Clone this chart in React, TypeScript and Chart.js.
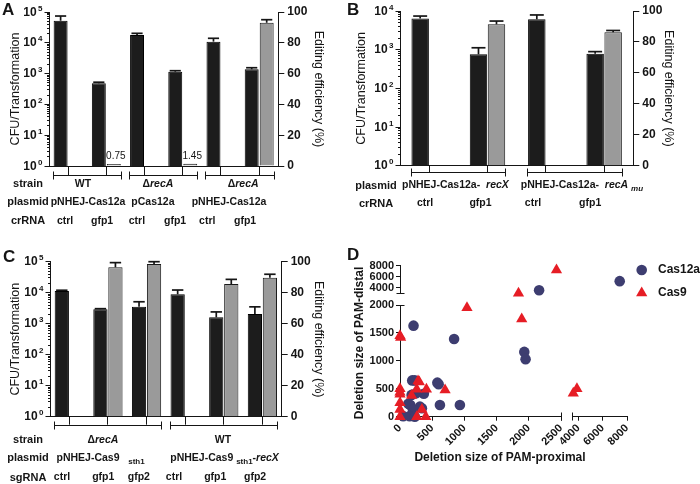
import React, { useEffect, useRef } from "react";
import { Chart, registerables } from "chart.js";

Chart.register(...registerables);

const FONT = "'Liberation Sans', Arial, Helvetica, sans-serif";
const INK = "#151515";
const DARK_BAR = "#1c1c1c";
const GREY_BAR = "#9a9a9a";
const CAS12A_COLOR = "#3d3d70";
const CAS9_COLOR = "#e61d25";

// ===== Panel A data =====
const aCrRNA = ["ctrl", "gfp1", "ctrl", "gfp1", "ctrl", "gfp1"];
const aCfu = [52000, 485, 17900, 1150, 10900, 1380];
const aCfuErr = [22000, 40, 2400, 90, 3100, 170];
const aEditing = [null, 0.75, null, 1.45, null, 93];
const aEditingErr = [null, 0, null, 0, null, 2];
const aEditingLabels = ["", "0.75", "", "1.45", "", ""];
const aStrains = ["WT", "Δ*recA*", "Δ*recA*"];
const aPlasmids = ["pNHEJ-Cas12a", "pCas12a", "pNHEJ-Cas12a"];

// ===== Panel B data =====
const bCrRNA = ["ctrl", "gfp1", "ctrl", "gfp1"];
const bCfu = [6400, 760, 6100, 780];
const bCfuErr = [1000, 360, 1800, 110];
const bEditing = [null, 91.4, null, 86.2];
const bEditingErr = [null, 2.1, null, 1.2];
const bEditingLabels = ["", "", "", ""];
const bPlasmids = ["pNHEJ-Cas12a-  *recX*", "pNHEJ-Cas12a-  *recA* _*mu*_"];

// ===== Panel C data =====
const cSgRNA = ["ctrl", "gfp1", "gfp2", "ctrl", "gfp1", "gfp2"];
const cCfu = [11300, 2950, 3500, 8900, 1600, 2050];
const cCfuErr = [700, 100, 1600, 3300, 800, 1450];
const cEditing = [null, 96.4, 98.5, null, 85.6, 89.7];
const cEditingErr = [null, 3, 1.5, null, 3, 2.2];
const cEditingLabels = ["", "", "", "", "", ""];
const cStrains = ["Δ*recA*", "WT"];
const cPlasmids = ["pNHEJ-Cas9   _sth1_", "pNHEJ-Cas9 _sth1_-*recX*"];

// ===== Panel D data =====
const dCas12a = [
  [210, 1630], [840, 1390], [1930, 1160], [1950, 1030],
  [190, 650], [230, 650], [580, 610], [600, 580],
  [370, 410], [180, 390], [250, 420],
  [130, 230], [160, 210], [310, 180], [340, 150], [620, 210], [930, 210],
  [200, 130], [50, 10], [150, 10], [230, 0],
  [2160, 3550], [7400, 5200],
];
const dCas9 = [
  [0, 1450], [10, 1420], [1040, 1950], [1890, 1750],
  [0, 500], [0, 440], [0, 400], [0, 250], [0, 130], [0, 0],
  [180, 380], [260, 490], [280, 640], [300, 620], [410, 490], [700, 480],
  [340, 130], [260, 0], [400, 0],
  [1840, 3000], [2430, 7200],
  [3580, 420], [3880, 500],
];
const dXMainRange = [0, 2500];
const dXHighRange = [3500, 8000];
const dYMainRange = [0, 2000];
const dYHighRange = [3000, 8000];
const dXMainTicks = [0, 500, 1000, 1500, 2000, 2500];
const dXHighTicks = [4000, 6000, 8000];
const dYMainTicks = [0, 500, 1000, 1500, 2000];
const dYHighTicks = [4000, 6000, 8000];

// ===== layout specs =====
const specA = {
  canvas: { left: 0, top: 0, width: 350, height: 240 },
  area: { l: 49, r: 278.3, t: 12, b: 166 },
  logMaxExp: 5,
  categories: aCrRNA, cfu: aCfu, cfuErr: aCfuErr, editing: aEditing, editingErr: aEditingErr, editingLabels: aEditingLabels,
  catPct: 0.785, barPct: 0.93,
  tickLen: 9,
  bracketY: 175,
  brackets: [[0, 1], [2, 3], [4, 5]],
  rowTitleX: 28,
  rows: [
    { title: "strain", y: 184, texts: aStrains, at: [0.39, 2.35, 4.58] },
    { title: "plasmid", y: 202, texts: aPlasmids, at: [0.52, 2.22, 4.21] },
    { title: "crRNA", y: 221, texts: aCrRNA, at: [-0.08, 0.89, 1.8, 2.8, 3.64, 4.63] },
  ],
  letter: { text: "A", x: 2, y: 15 },
  leftTitlePad: 8.5, rightTitlePad: 24.5,
};
const specB = {
  canvas: { left: 344, top: 0, width: 356, height: 240 },
  area: { l: 56, r: 289.3, t: 11, b: 165.7 },
  logMaxExp: 4,
  categories: bCrRNA, cfu: bCfu, cfuErr: bCfuErr, editing: bEditing, editingErr: bEditingErr, editingLabels: bEditingLabels,
  catPct: 0.617, barPct: 0.97,
  tickLen: 7,
  bracketY: 172.7,
  brackets: [[0, 1], [2, 3]],
  rowTitleX: 32,
  rows: [
    { title: "plasmid", y: 185.5, texts: bPlasmids, at: [0.45, 2.62] },
    { title: "crRNA", y: 203.5, texts: bCrRNA, at: [-0.07, 0.88, 1.78, 2.76] },
  ],
  letter: { text: "B", x: 3, y: 15 },
  leftTitlePad: 10.5, rightTitlePad: 24.5,
};
const specC = {
  canvas: { left: 0, top: 240, width: 350, height: 244 },
  area: { l: 50, r: 281.7, t: 21.7, b: 176.7 },
  logMaxExp: 5,
  categories: cSgRNA, cfu: cCfu, cfuErr: cCfuErr, editing: cEditing, editingErr: cEditingErr, editingLabels: cEditingLabels,
  catPct: 0.777, barPct: 0.95,
  tickLen: 8,
  bracketY: 185,
  brackets: [[0, 2], [3, 5]],
  rowTitleX: 28,
  rows: [
    { title: "strain", y: 200, texts: cStrains, at: [0.87, 3.98] },
    { title: "plasmid", y: 218, texts: cPlasmids, at: [0.81, 4.02] },
    { title: "sgRNA", y: 237.5, texts: cSgRNA, at: [-0.19, 0.88, 1.8, 2.71, 3.78, 4.81] },
  ],
  letter: { text: "C", x: 3, y: 22 },
  leftTitlePad: 8.5, rightTitlePad: 24.5,
};
const specD = {
  canvas: { left: 344, top: 240, width: 356, height: 244 },
  area: { l: 56, r: 283, t: 25.7, b: 176.7 },
  xWeights: [161, 11.3, 54.7],
  yWeights: [27.6, 11.7, 111.7],
  letter: { text: "D", x: 3, y: 20 },
};

// ===== helpers =====
function alignPx(v: number) {
  return Math.round(v - 0.5) + 0.5;
}
function line(ctx: CanvasRenderingContext2D, x1: number, y1: number, x2: number, y2: number) {
  ctx.beginPath();
  ctx.moveTo(x1, y1);
  ctx.lineTo(x2, y2);
  ctx.stroke();
}
type Run = { t: string; it: boolean; sub: boolean };
function parseRich(s: string): Run[] {
  const runs: Run[] = [];
  let it = false, sub = false, cur = "";
  for (const ch of s) {
    if (ch === "*" || ch === "_") {
      if (cur) runs.push({ t: cur, it, sub });
      cur = "";
      if (ch === "*") it = !it; else sub = !sub;
    } else cur += ch;
  }
  if (cur) runs.push({ t: cur, it, sub });
  return runs;
}
function drawRich(ctx: CanvasRenderingContext2D, s: string, cx: number, cy: number, size: number) {
  const runs = parseRich(s);
  const fontOf = (r: Run) => `${r.it ? "italic " : ""}bold ${r.sub ? Math.round(size * 0.72) : size}px ${FONT}`;
  let total = 0;
  const widths = runs.map((r) => {
    ctx.font = fontOf(r);
    const w = ctx.measureText(r.t).width;
    total += w;
    return w;
  });
  let x = cx - total / 2;
  ctx.textAlign = "left";
  ctx.textBaseline = "middle";
  runs.forEach((r, i) => {
    ctx.font = fontOf(r);
    ctx.fillText(r.t, x, cy + (r.sub ? size * 0.32 : 0));
    x += widths[i];
  });
}

function makeBarAnnotations(s: any) {
  return {
    id: "barAnnotations",
    afterDraw(chart: any) {
      const ctx: CanvasRenderingContext2D = chart.ctx;
      const xs = chart.scales.x, ys = chart.scales.y, ys2 = chart.scales.y2;
      const n = s.categories.length;
      const catW = (xs.right - xs.left) / n;
      const slot = (catW * s.catPct) / 2;
      const catX = (p: number) => xs.getPixelForValue(p);
      ctx.save();
      ctx.strokeStyle = INK;
      ctx.fillStyle = INK;
      ctx.lineWidth = 1;

      // log axis ticks and labels
      const ax = alignPx(ys.right);
      for (let e = 0; e <= s.logMaxExp; e++) {
        const y = alignPx(ys.getPixelForValue(Math.pow(10, e)));
        line(ctx, ax - 5, y, ax, y);
        if (e < s.logMaxExp) {
          for (let m = 2; m <= 9; m++) {
            const ym = alignPx(ys.getPixelForValue(m * Math.pow(10, e)));
            line(ctx, ax - 2.5, ym, ax, ym);
          }
        }
        ctx.textAlign = "right";
        ctx.textBaseline = "middle";
        ctx.font = `bold 8px ${FONT}`;
        const supW = ctx.measureText(String(e)).width;
        ctx.fillText(String(e), ax - 7, y - 4);
        ctx.font = `bold 12px ${FONT}`;
        ctx.fillText("10", ax - 7 - supW - 1.5, y);
      }

      // error bars
      const drawErr = (dsIndex: number, values: any[], errs: any[], scale: any) => {
        const meta = chart.getDatasetMeta(dsIndex);
        meta.data.forEach((bar: any, i: number) => {
          const v = values[i], e = errs[i];
          if (v == null || !e) return;
          const top = scale.getPixelForValue(v + e);
          ctx.lineWidth = 1.7;
          line(ctx, bar.x, bar.y, bar.x, top);
          line(ctx, bar.x - bar.width * 0.4, top, bar.x + bar.width * 0.4, top);
        });
      };
      drawErr(0, s.cfu, s.cfuErr, ys);
      drawErr(1, s.editing, s.editingErr, ys2);

      // small value labels
      const meta1 = chart.getDatasetMeta(1);
      ctx.font = `10px ${FONT}`;
      ctx.textAlign = "center";
      ctx.textBaseline = "alphabetic";
      s.editingLabels.forEach((t: string, i: number) => {
        if (!t) return;
        const bar = meta1.data[i];
        ctx.fillText(t, bar.x + 2, bar.y - 5);
      });

      // group brackets
      ctx.lineWidth = 1;
      const by = alignPx(s.bracketY);
      s.brackets.forEach(([a, b]: number[]) => {
        const x1 = alignPx(catX(a) - slot), x2 = alignPx(catX(b) + slot);
        line(ctx, x1, by, x2, by);
        line(ctx, x1, by - 4, x1, by + 4);
        line(ctx, x2, by - 4, x2, by + 4);
      });

      // annotation rows
      s.rows.forEach((row: any) => {
        ctx.font = `bold 11px ${FONT}`;
        ctx.textAlign = "center";
        ctx.textBaseline = "middle";
        ctx.fillText(row.title, s.rowTitleX, row.y);
        row.texts.forEach((t: string, i: number) => drawRich(ctx, t, catX(row.at[i]), row.y, 10.5));
      });

      // panel letter
      ctx.font = `bold 17px ${FONT}`;
      ctx.textAlign = "left";
      ctx.textBaseline = "alphabetic";
      ctx.fillText(s.letter.text, s.letter.x, s.letter.y);
      ctx.restore();
    },
  };
}

function BarPanel({ s }: { s: any }) {
  const ref = useRef<HTMLCanvasElement>(null);
  useEffect(() => {
    const canvas = ref.current!;
    const titleFont = { family: FONT, size: 12.5, weight: "normal" };
    const chart = new Chart(canvas, {
      type: "bar",
      data: {
        labels: s.categories,
        datasets: [
          {
            label: "CFU/Transformation",
            data: s.cfu,
            yAxisID: "y",
            backgroundColor: DARK_BAR,
            borderColor: "#000",
            borderWidth: 1,
            categoryPercentage: s.catPct,
            barPercentage: s.barPct,
          },
          {
            label: "Editing efficiency (%)",
            data: s.editing,
            yAxisID: "y2",
            backgroundColor: GREY_BAR,
            borderColor: "#1a1a1a",
            borderWidth: 1,
            minBarLength: 2,
            categoryPercentage: s.catPct,
            barPercentage: s.barPct,
          },
        ],
      },
      options: {
        responsive: false,
        animation: false,
        events: [],
        layout: { padding: { top: s.area.t, left: 0, right: 0, bottom: 0 } },
        plugins: { legend: { display: false }, tooltip: { enabled: false }, title: { display: false } },
        scales: {
          x: {
            type: "category",
            offset: true,
            grid: { display: true, drawOnChartArea: false, offset: false, tickLength: s.tickLen, color: INK, lineWidth: 1 },
            border: { display: true, color: INK, width: 1 },
            ticks: { display: false },
            afterFit: (sc: any) => { sc.height = s.canvas.height - s.area.b; },
          },
          y: {
            type: "logarithmic",
            position: "left",
            min: 1,
            max: Math.pow(10, s.logMaxExp),
            grid: { display: false },
            border: { display: true, color: INK, width: 1 },
            ticks: { display: false },
            title: { display: true, text: "CFU/Transformation", font: titleFont, color: INK, padding: { top: s.leftTitlePad, bottom: 0 } },
            afterFit: (sc: any) => { sc.width = s.area.l; },
          },
          y2: {
            type: "linear",
            position: "right",
            min: 0,
            max: 100,
            grid: { display: true, drawOnChartArea: false, tickLength: 6, color: INK, lineWidth: 1 },
            border: { display: true, color: INK, width: 1 },
            ticks: { stepSize: 20, font: { family: FONT, size: 12, weight: "bold" }, color: INK, padding: 3 },
            title: { display: true, text: "Editing efficiency (%)", font: titleFont, color: INK, padding: { top: s.rightTitlePad, bottom: 0 } },
            afterFit: (sc: any) => { sc.width = s.canvas.width - s.area.r; },
          },
        },
      } as any,
      plugins: [makeBarAnnotations(s)],
    } as any);
    return () => chart.destroy();
  }, [s]);
  return (
    <canvas
      ref={ref}
      width={s.canvas.width}
      height={s.canvas.height}
      style={{ position: "absolute", left: s.canvas.left, top: s.canvas.top, width: s.canvas.width, height: s.canvas.height }}
    />
  );
}

function trianglePath(ctx: CanvasRenderingContext2D, x: number, y: number, r: number) {
  ctx.beginPath();
  ctx.moveTo(x, y - r);
  ctx.lineTo(x + r * Math.sin((2 * Math.PI) / 3), y + r / 2);
  ctx.lineTo(x - r * Math.sin((2 * Math.PI) / 3), y + r / 2);
  ctx.closePath();
}

function ScatterPanel() {
  const ref = useRef<HTMLCanvasElement>(null);
  useEffect(() => {
    const s = specD;
    const canvas = ref.current!;
    const split = (pts: number[][], xHigh: boolean, yHigh: boolean) =>
      pts
        .filter(([x, y]) => (x > dXMainRange[1]) === xHigh && (y > dYMainRange[1]) === yHigh)
        .map(([x, y]) => ({ x, y }));
    const regions = [[false, false], [false, true], [true, false], [true, true]];
    const datasets: any[] = [];
    const series = [
      { name: "Cas9", pts: dCas9, style: "triangle", r: 6.5, color: CAS9_COLOR },
      { name: "Cas12a", pts: dCas12a, style: "circle", r: 5.3, color: CAS12A_COLOR },
    ];
    series.forEach((se) => {
      regions.forEach(([xh, yh]) => {
        const data = split(se.pts, xh, yh);
        if (!data.length) return;
        datasets.push({
          label: se.name,
          data,
          xAxisID: xh ? "x2" : "x",
          yAxisID: yh ? "yTop" : "y",
          pointStyle: se.style,
          pointRadius: se.r,
          backgroundColor: se.color,
          borderColor: se.color,
          borderWidth: 0,
          clip: false,
        });
      });
    });
    const tickFont = { family: FONT, size: 11, weight: "bold" };
    const xHeight = s.canvas.height - s.area.b;
    const axisBase = {
      type: "linear",
      grid: { display: true, drawOnChartArea: false, color: INK, tickLength: 4, lineWidth: 1 },
      border: { display: true, color: INK, width: 1 },
    };
    const hidden = {
      type: "linear",
      display: true,
      grid: { display: false },
      border: { display: false },
      ticks: { display: false },
    };
    const setTicks = (vals: number[]) => (sc: any) => { sc.ticks = vals.map((v) => ({ value: v })); };
    const xTicks = { font: tickFont, color: INK, autoSkip: false, padding: 1, minRotation: 45, maxRotation: 45, callback: (v: any) => String(v) };
    const yTicks = { font: tickFont, color: INK, autoSkip: false, padding: 2, callback: (v: any) => String(v) };

    const annot = {
      id: "scatterAnnotations",
      afterDraw(chart: any) {
        const ctx: CanvasRenderingContext2D = chart.ctx;
        const { x, x2, y, yTop } = chart.scales;
        ctx.save();
        ctx.strokeStyle = INK;
        ctx.fillStyle = INK;
        ctx.lineWidth = 1;
        // axis break caps
        const bx = alignPx(y.right);
        const byAxis = alignPx(chart.chartArea.bottom);
        line(ctx, alignPx(x.right), byAxis - 4, alignPx(x.right), byAxis + 4);
        line(ctx, alignPx(x2.left), byAxis - 4, alignPx(x2.left), byAxis + 4);
        line(ctx, bx - 4, alignPx(yTop.bottom), bx + 4, alignPx(yTop.bottom));
        line(ctx, bx - 4, alignPx(y.top), bx + 4, alignPx(y.top));

        // axis titles
        ctx.font = `bold 12px ${FONT}`;
        ctx.textAlign = "center";
        ctx.textBaseline = "middle";
        ctx.fillText("Deletion size of PAM-proximal", 156, 218);
        ctx.save();
        ctx.translate(16, 103);
        ctx.rotate(-Math.PI / 2);
        ctx.fillText("Deletion size of PAM-distal", 0, 0);
        ctx.restore();

        // legend
        const lx = 297.7;
        ctx.fillStyle = CAS12A_COLOR;
        ctx.beginPath();
        ctx.arc(lx, 30, 5.3, 0, Math.PI * 2);
        ctx.fill();
        ctx.fillStyle = CAS9_COLOR;
        trianglePath(ctx, lx, 53, 6.5);
        ctx.fill();
        ctx.fillStyle = INK;
        ctx.textAlign = "left";
        ctx.fillText("Cas12a", 314, 30);
        ctx.fillText("Cas9", 314, 52.5);

        // letter
        ctx.font = `bold 17px ${FONT}`;
        ctx.textBaseline = "alphabetic";
        ctx.fillText(s.letter.text, s.letter.x, s.letter.y);
        ctx.restore();
      },
    };

    const chart = new Chart(canvas, {
      type: "scatter",
      data: { datasets },
      options: {
        responsive: false,
        animation: false,
        events: [],
        layout: { padding: { top: s.area.t, left: 0, right: s.canvas.width - s.area.r, bottom: 0 } },
        plugins: { legend: { display: false }, tooltip: { enabled: false } },
        scales: {
          x: {
            ...axisBase, position: "bottom", stack: "dx", stackWeight: s.xWeights[0],
            min: dXMainRange[0], max: dXMainRange[1], ticks: xTicks,
            afterBuildTicks: setTicks(dXMainTicks),
            afterFit: (sc: any) => { sc.height = xHeight; },
          },
          xgap: {
            ...hidden, position: "bottom", stack: "dx", stackWeight: s.xWeights[1],
            afterFit: (sc: any) => { sc.height = xHeight; },
          },
          x2: {
            ...axisBase, position: "bottom", stack: "dx", stackWeight: s.xWeights[2],
            min: dXHighRange[0], max: dXHighRange[1], ticks: xTicks,
            afterBuildTicks: setTicks(dXHighTicks),
            afterFit: (sc: any) => { sc.height = xHeight; },
          },
          y: {
            ...axisBase, position: "left", stack: "dy", stackWeight: s.yWeights[2],
            min: dYMainRange[0], max: dYMainRange[1], ticks: yTicks,
            afterBuildTicks: setTicks(dYMainTicks),
            afterFit: (sc: any) => { sc.width = s.area.l; },
          },
          ygap: {
            ...hidden, position: "left", stack: "dy", stackWeight: s.yWeights[1],
            afterFit: (sc: any) => { sc.width = s.area.l; },
          },
          yTop: {
            ...axisBase, position: "left", stack: "dy", stackWeight: s.yWeights[0],
            min: dYHighRange[0], max: dYHighRange[1], ticks: yTicks,
            afterBuildTicks: setTicks(dYHighTicks),
            afterFit: (sc: any) => { sc.width = s.area.l; },
          },
        },
      } as any,
      plugins: [annot],
    } as any);
    return () => chart.destroy();
  }, []);
  const c = specD.canvas;
  return (
    <canvas
      ref={ref}
      width={c.width}
      height={c.height}
      style={{ position: "absolute", left: c.left, top: c.top, width: c.width, height: c.height }}
    />
  );
}

export default function App() {
  return (
    <div style={{ position: "absolute", left: 0, top: 0, width: 700, height: 484, background: "#ffffff", overflow: "hidden" }}>
      <BarPanel s={specA} />
      <BarPanel s={specC} />
      <BarPanel s={specB} />
      <ScatterPanel />
    </div>
  );
}
